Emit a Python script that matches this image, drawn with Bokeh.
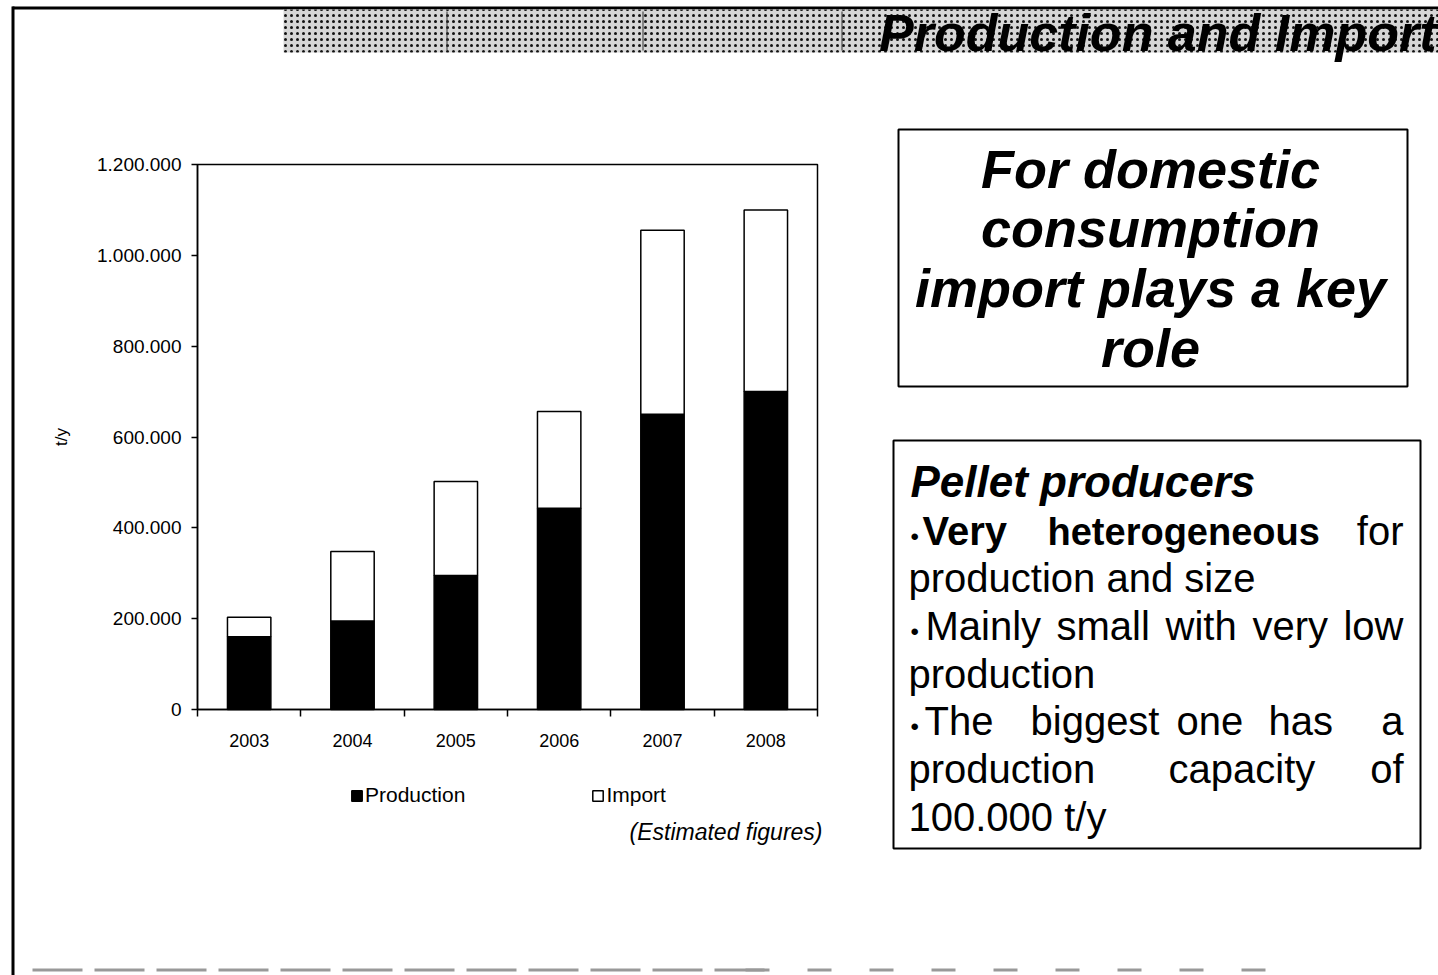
from bokeh.plotting import figure
from bokeh.models import (FixedTicker, Legend, LegendItem, Label, BoxAnnotation,
                          ColumnDataSource, Range1d)
from bokeh.embed import file_html
from bokeh.resources import INLINE

# ---------------- data ----------------
years = ["2003", "2004", "2005", "2006", "2007", "2008"]
production = [160000, 195000, 295000, 443000, 650000, 700000]
imports = [43000, 153000, 207000, 213000, 405000, 400000]
series_names = ["Production", "Import"]
y_ticks = [0, 200000, 400000, 600000, 800000, 1000000, 1200000]
y_tick_labels = ["0", "200.000", "400.000", "600.000", "800.000", "1.000.000", "1.200.000"]

FONT = "Liberation Sans"
W, H = 1438, 975
# chart area placement on the canvas (pixels)
FL, FR, FT, FB = 197, 817, 164, 709

n = len(years)
xs = list(range(1, n + 1))
xlo, xhi = 0.5, n + 0.5
ylo, yhi = y_ticks[0], y_ticks[-1]
kx = (FR - FL) / (xhi - xlo)
ky = (FB - FT) / (yhi - ylo)
x0 = xlo - FL / kx
x1 = x0 + W / kx
y0 = ylo - (H - FB) / ky
y1 = y0 + H / ky

src = ColumnDataSource(dict(x=xs, production=production, imports=imports))

p = figure(width=W, height=H, output_backend="svg", toolbar_location=None,
           x_range=Range1d(x0, x1), y_range=Range1d(y0, y1),
           min_border=0)
p.xgrid.visible = False
p.ygrid.visible = False
p.outline_line_color = None
p.background_fill_color = "white"
p.border_fill_color = "white"


def sx(px):
    return px


def sy(py):
    return H - py


def box(l, t, r, b, fill="white", line="black", lw=2, **kw):
    ba = BoxAnnotation(left=sx(l), right=sx(r), top=sy(t), bottom=sy(b),
                       left_units="screen", right_units="screen",
                       top_units="screen", bottom_units="screen",
                       fill_color=fill if fill else "white", fill_alpha=1 if fill else 0,
                       line_color=line, line_alpha=1, line_width=lw, **kw)
    p.add_layout(ba)
    return ba


def label(px, base, text, size, style="normal", align="left"):
    # base = alphabetic baseline in pixels; placed with a 'middle' anchor
    mid = base - 0.36 * size
    p.add_layout(Label(x=sx(px), y=sy(mid), x_units="screen", y_units="screen",
                       text=text, text_font=FONT, text_font_size=f"{size}px",
                       text_font_style=style, text_align=align,
                       text_baseline="middle", text_color="black"))


# chart area outline (data space)
p.add_layout(BoxAnnotation(left=xlo, right=xhi, bottom=ylo, top=yhi,
                           fill_alpha=0, line_color="black", line_alpha=1, line_width=1.5))

rs = p.vbar_stack(["production", "imports"], x="x", width=0.42, source=src,
                  fill_color=["black", "white"], line_color="black", line_width=1.5)

# x axis: labels at bar centres, tick marks between categories
xa = p.xaxis[0]
xa.fixed_location = ylo
xa.bounds = (xlo, xhi)
xa.ticker = FixedTicker(ticks=xs, minor_ticks=[x + 0.5 for x in [0] + xs])
xa.major_label_overrides = {x: y for x, y in zip(xs, years)}
xa.major_tick_in = 0
xa.major_tick_out = 0
xa.minor_tick_in = 0
xa.minor_tick_out = 7
xa.minor_tick_line_color = "black"
xa.minor_tick_line_width = 1.5
xa.axis_line_width = 1.5
xa.axis_line_color = "black"
xa.major_label_text_font = FONT
xa.major_label_text_font_size = "18px"
xa.major_label_text_color = "black"
xa.major_label_standoff = 17

ya = p.yaxis[0]
ya.fixed_location = xlo
ya.bounds = (ylo, yhi)
ya.ticker = FixedTicker(ticks=y_ticks, minor_ticks=[])
ya.major_label_overrides = {v: l for v, l in zip(y_ticks, y_tick_labels)}
ya.major_tick_in = 0
ya.major_tick_out = 6
ya.major_tick_line_width = 1.5
ya.major_tick_line_color = "black"
ya.axis_line_width = 1.5
ya.axis_line_color = "black"
ya.major_label_text_font = FONT
ya.major_label_text_font_size = "19px"
ya.major_label_text_color = "black"
ya.major_label_standoff = 10
ya.axis_label = "t/y"
ya.axis_label_text_font = FONT
ya.axis_label_text_font_style = "normal"
ya.axis_label_text_font_size = "17px"
ya.axis_label_text_color = "black"
ya.axis_label_standoff = 23

legend = Legend(items=[LegendItem(label=series_names[0], renderers=[rs[0]]),
                       LegendItem(label=series_names[1], renderers=[rs[1]])],
                orientation="horizontal", location=(sx(350), sy(807)),
                border_line_color=None, background_fill_alpha=0,
                glyph_width=13, glyph_height=13, label_standoff=2, spacing=126,
                padding=0, margin=0, label_text_font=FONT, label_text_font_size="21px",
                label_text_color="black", label_height=20)
p.add_layout(legend)

# slide frame lines
box(12, 6, 1438, 9, fill="black", line=None, lw=0)
box(11, 6, 14, 975, fill="black", line=None, lw=0)
# bottom dashed rule (long dashes, then shorter ones)
for xd in range(32, 740, 62):
    box(xd, 968, xd + 50, 971, fill="#999999", line=None, lw=0)
for xd in range(745, 1300, 62):
    box(xd, 968, xd + 24, 971, fill="#999999", line=None, lw=0)

# title banner
box(283, 9, 1438, 52, fill="#d6d6d6", line=None, lw=0,
    hatch_pattern="dot", hatch_color="#111111", hatch_scale=6, hatch_weight=2.5)
for xsep in [446, 642, 841]:
    box(xsep, 11, xsep + 1, 50, fill="#333333", line=None, lw=0)
label(1436, 51, "Production and Import", 52, "bold italic", "right")

# text box 1
box(898, 129, 1407, 386)
for txt, base in zip(["For domestic", "consumption", "import plays a key", "role"],
                     [188, 247, 307, 367]):
    label(1150, base, txt, 54, "bold italic", "center")

# text box 2
box(893, 440, 1420, 848)
label(910, 497, "Pellet producers", 44, "bold italic")
label(910, 545, "•", 24)
label(922, 545, "Very", 40, "bold")
label(1047, 545, "heterogeneous", 38, "bold")
label(1403, 545, "for", 40, "normal", "right")
label(908, 592, "production and size", 40)
label(910, 640, "•", 24)
label(925, 640, "Mainly", 40)
label(1056, 640, "small", 40)
label(1165, 640, "with", 40)
label(1252, 640, "very", 40)
label(1403, 640, "low", 40, "normal", "right")
label(908, 688, "production", 40)
label(910, 735, "•", 24)
label(924, 735, "The", 40)
label(1030, 735, "biggest", 40)
label(1176, 735, "one", 40)
label(1268, 735, "has", 40)
label(1403, 735, "a", 40, "normal", "right")
label(908, 783, "production", 40)
label(1168, 783, "capacity", 40)
label(1403, 783, "of", 40, "normal", "right")
label(908, 831, "100.000 t/y", 40)

# note under chart
label(822, 840, "(Estimated figures)", 23, "italic", "right")

open("out.html", "w").write(file_html(p, INLINE))
